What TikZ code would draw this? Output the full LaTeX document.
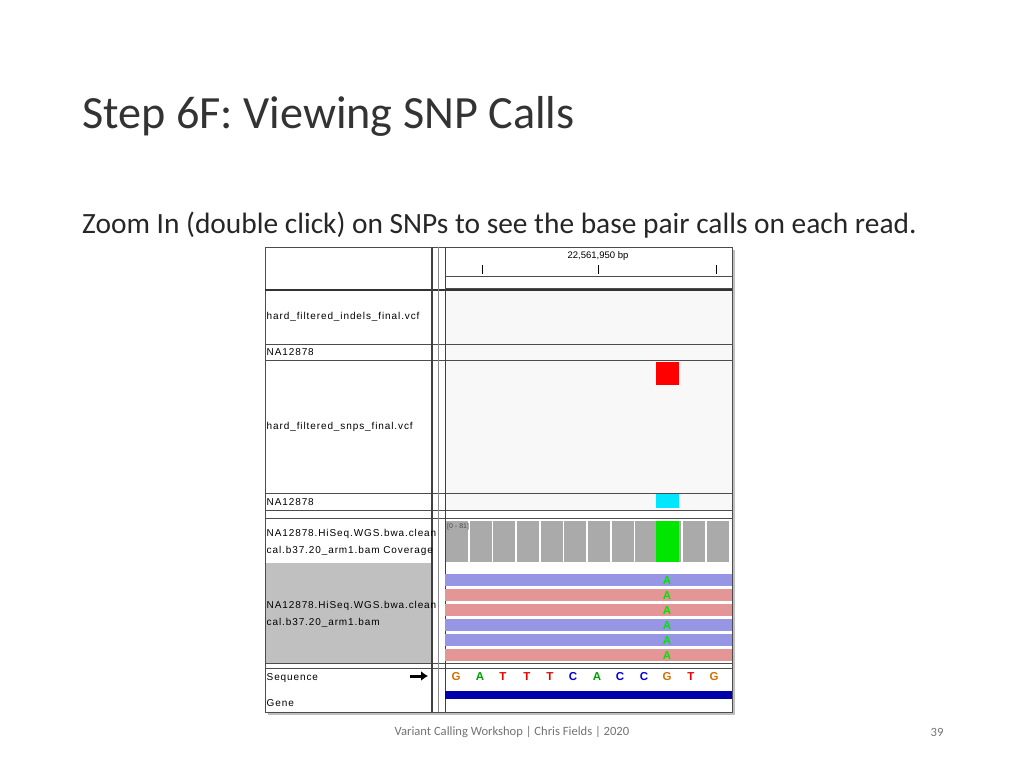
\documentclass[tikz,border=0pt]{standalone}
\usepackage{fontspec}
\setmainfont{Carlito}
\newfontfamily\igvfont[LetterSpace=9]{Liberation Sans}
\newfontfamily\igvbase{Liberation Sans}
\usetikzlibrary{positioning,arrows.meta}
\definecolor{readblue}{RGB}{150,150,228}
\definecolor{readred}{RGB}{228,150,150}
\definecolor{covgray}{RGB}{170,170,170}
\definecolor{panelgray}{RGB}{192,192,192}
\definecolor{trackbg}{RGB}{248,248,248}
\definecolor{baseG}{RGB}{209,113,0}
\definecolor{baseA}{RGB}{0,160,0}
\definecolor{baseT}{RGB}{230,0,0}
\definecolor{baseC}{RGB}{0,0,220}
\definecolor{snpA}{RGB}{0,230,0}
\definecolor{snpcyan}{RGB}{0,230,255}
\definecolor{genebar}{RGB}{0,0,170}
\tikzset{
  igvtext/.style={font=\igvfont\fontsize{10}{11}\selectfont, anchor=west, inner sep=1.5pt},
  tracksep/.style={draw=black!70, line width=0.8pt},
  basechar/.style={font=\igvbase\bfseries\fontsize{11.5}{12}\selectfont, inner sep=0pt}
}
\begin{document}
\begin{tikzpicture}[x=1pt,y=-1pt]
				\useasboundingbox (0,0) rectangle (1024,768);
				% Slide texts
				\node[anchor=base west, inner sep=0pt, font=\fontsize{46.2}{48}\selectfont, text=black!80] (title) at (82,128) {Step 6F: Viewing SNP Calls};
				\node[anchor=base west, inner sep=0pt, font=\fontsize{29.4}{31}\selectfont, text=black!85] (subtitle) at (82,233) {Zoom In (double click) on SNPs to see the base pair calls on each read.};
				
				% Screenshot frame and panels
				\fill[black!25] (268,250) rectangle (735,715);
				\fill[white] (265,247) rectangle (732,712);
				\fill[trackbg] (445,291) rectangle (732,510);
				\fill[panelgray] (265,563) rectangle (432,663);
				\draw[black!70] (265,247) rectangle (732,712);
				
				% Ruler
				\node[font=\igvbase\fontsize{9.5}{10}\selectfont, inner sep=0pt] (bp) at (598,256) {22,561,950 bp};
				\foreach \tx in {482,598,716} \draw[black] (\tx,265) -- (\tx,274);
				\draw[black!70] (445,276) rectangle (732,288);
				\draw[black!80, line width=2pt] (265,289.5) -- (732,289.5);
				
				% Track separators
				\draw[tracksep] (265,344) -- (732,344);
				\draw[tracksep] (265,360) -- (732,360);
				\draw[tracksep] (265,493) -- (732,493);
				\draw[tracksep] (265,510) -- (732,510);
				\draw[tracksep] (265,518) -- (732,518);
				\draw[tracksep] (265,663) -- (732,663);
				\draw[tracksep] (265,668) -- (732,668);
				
				% Divider between name panel and data panel
				\draw[black!75, line width=1.2pt] (432,247) -- (432,712);
				\draw[black!45] (438,247) -- (438,712);
				\draw[black!75] (445,247) -- (445,712);
				
				% Variant calls
				\fill[red] (656,362) rectangle (679,385);
				\fill[snpcyan] (656,494) rectangle (679,508);
				
				% Coverage bars
				\foreach \i in {0,...,11} {
					\fill[covgray] ({445+\i*23.7+0.8},521) rectangle ({445+(\i+1)*23.7-0.8},562);
				}
				\fill[snpA] (656,521) rectangle (679,562);
				\node[font=\igvbase\fontsize{7}{7}\selectfont, anchor=west, inner sep=0pt, text=black!70] (range) at (447,527) {[0 - 81]};
				
				% Reads
				\foreach \ry/\rc in {574/readblue,589/readred,604/readred,619/readblue,634/readblue,649/readred} {
					\fill[\rc] (445,\ry) rectangle (732,\ry+12);
					\node[basechar, text=snpA] at (667,\ry+6.5) {A};
				}
				
				% Track names
				\node[igvtext] (indels) at (265,317) {hard\_filtered\_indels\_final.vcf};
				\node[igvtext] (sampleA) at (265,352) {NA12878};
				\node[igvtext] (snps) at (265,427) {hard\_filtered\_snps\_final.vcf};
				\node[igvtext] (sampleB) at (265,502) {NA12878};
				\node[igvtext] (covA) at (265,534) {NA12878.HiSeq.WGS.bwa.clean};
				\node[igvtext] (covB) at (265,551) {cal.b37.20\_arm1.bam Coverage};
				\node[igvtext] (bamA) at (265,606) {NA12878.HiSeq.WGS.bwa.clean};
				\node[igvtext] (bamB) at (265,623) {cal.b37.20\_arm1.bam};
				\node[igvtext] (seq) at (265,678) {Sequence};
				\node[igvtext] (gene) at (265,703) {Gene};
				\coordinate (arrowtail) at (410,676);
				\coordinate (arrowhead) at (428,676);
				\draw[-{Latex[length=7pt,width=10pt]}, line width=3pt] (arrowtail) -- (arrowhead);
				
				% Reference bases and gene
				\foreach \bx/\bb/\bc in {456/G/baseG,480/A/baseA,503/T/baseT,527/T/baseT,550/T/baseT,573/C/baseC,597/A/baseA,620/C/baseC,644/C/baseC,667/G/baseG,691/T/baseT,714/G/baseG} {
					\node[basechar, text=\bc] at (\bx,677) {\bb};
				}
				\fill[genebar] (445,691) rectangle (732,699);
				
				% Footer
				\node[font=\fontsize{12.6}{14}\selectfont, text=black!55] (footer) at (512,732) {Variant Calling Workshop | Chris Fields | 2020};
				\node[font=\fontsize{12.6}{14}\selectfont, text=black!55] (page) at (937,732) {39};
			\end{tikzpicture}
\end{document}
